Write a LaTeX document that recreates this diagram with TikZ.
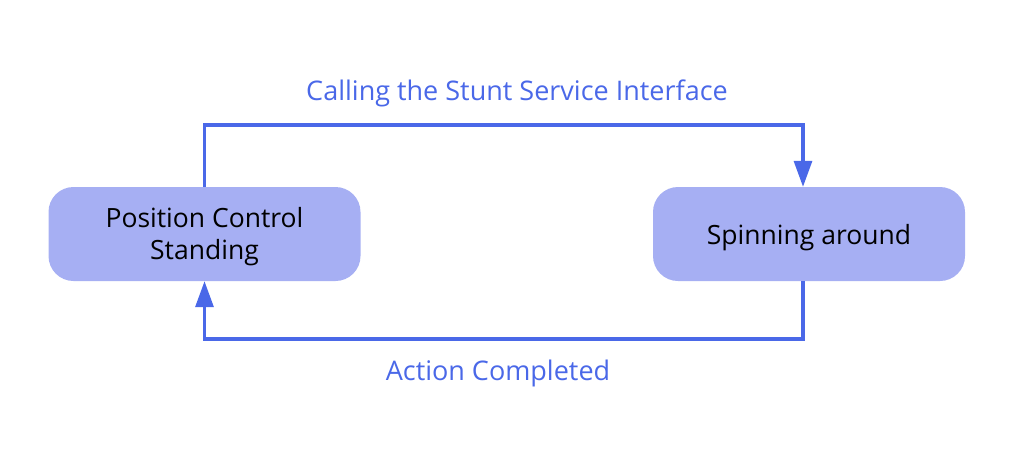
\documentclass[tikz,border=0pt]{standalone}
\usepackage{fontspec}
\setmainfont{Open Sans}
\usetikzlibrary{arrows.meta}
\definecolor{boxfill}{HTML}{A6AFF3}
\definecolor{linec}{HTML}{4A68E8}
\begin{document}
\begin{tikzpicture}[x=1pt,y=-1pt,
  statebox/.style={draw=none,fill=boxfill,rounded corners=25pt,minimum width=312pt,minimum height=94pt,inner sep=0pt},
  boxtext/.style={align=center,font=\fontsize{26.5}{32}\selectfont,inner sep=0pt},
  conn/.style={draw=linec,line width=3.2pt,-{Triangle[length=26pt,width=18pt]}},
  lbl/.style={text=linec,font=\fontsize{27}{32}\selectfont,inner sep=0pt}]
\useasboundingbox (0,0) rectangle (1014,459);
\node[statebox] (a) at (204.5,234) {};
\node[boxtext] (at) at (204.5,237) {Position Control\\Standing};
\node[statebox] (b) at (809,234) {};
\node[boxtext] (bt) at (809,238) {Spinning around};
\coordinate (t1) at (204.5,125);
\coordinate (t2) at (803,125);
\coordinate (b1) at (803,339);
\coordinate (b2) at (204.5,339);
\draw[conn] (a.north) -- (t1) -- (t2) -- (b.north -| t2);
\draw[conn] (b.south -| b1) -- (b1) -- (b2) -- (a.south);
\node[lbl] (l1) at (517,93) {Calling the Stunt Service Interface};
\node[lbl] (l2) at (498,373) {Action Completed};
\end{tikzpicture}
\end{document}
